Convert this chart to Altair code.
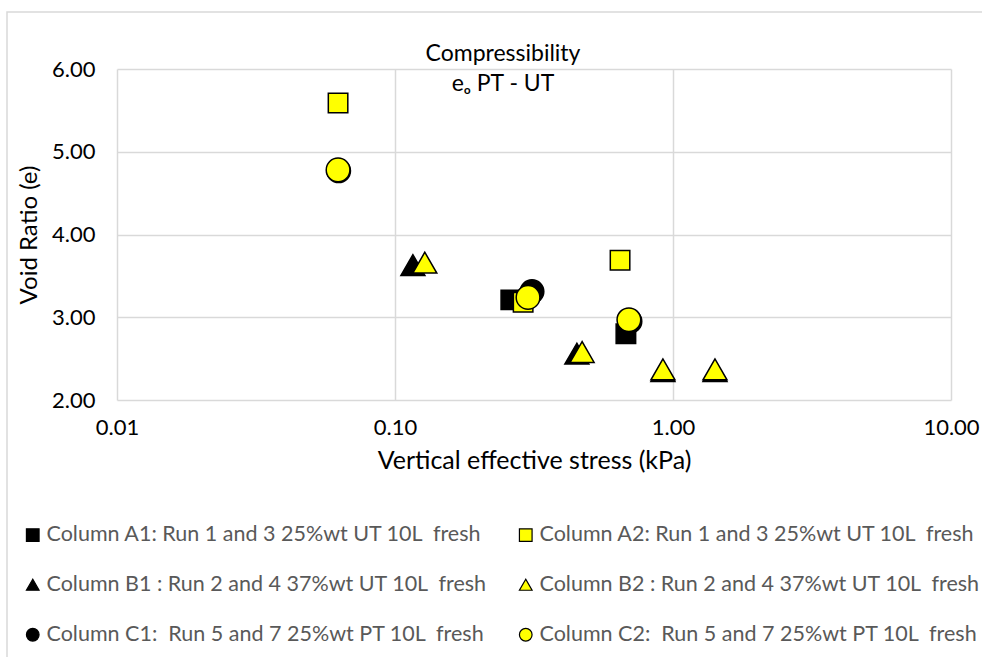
import altair as alt
import pandas as pd

# ---- data ----
series_names = [
    "Column A1: Run 1 and 3 25%wt UT 10L  fresh",
    "Column A2: Run 1 and 3 25%wt UT 10L  fresh",
    "Column B1 : Run 2 and 4 37%wt UT 10L  fresh",
    "Column B2 : Run 2 and 4 37%wt UT 10L  fresh",
    "Column C1:  Run 5 and 7 25%wt PT 10L  fresh",
    "Column C2:  Run 5 and 7 25%wt PT 10L  fresh",
]
a1_stress = [0.261, 0.677]
a1_void = [3.21, 2.80]
a2_stress = [0.0624, 0.289, 0.645]
a2_void = [5.59, 3.18, 3.69]
b1_stress = [0.116, 0.451, 0.92, 1.416]
b1_void = [3.63, 2.56, 2.35, 2.35]
b2_stress = [0.128, 0.471, 0.92, 1.416]
b2_void = [3.66, 2.58, 2.37, 2.37]
c1_stress = [0.0627, 0.311, 0.70]
c1_void = [4.77, 3.31, 2.95]
c2_stress = [0.0624, 0.301, 0.694]
c2_void = [4.78, 3.24, 2.97]

fills = ["black", "#ffff00", "black", "#ffff00", "black", "#ffff00"]
shapes = ["square", "square", "triangle-up", "triangle-up", "circle", "circle"]
marker_sizes = {"square": 380, "triangle-up": 576, "circle": 560}

x_ticks = [0.01, 0.1, 1, 10]
y_ticks = [2, 3, 4, 5, 6]

# keep the double spaces visible in SVG text
display_names = [s.replace("  ", " \u00a0") for s in series_names]

rows = []
for name, shp, xs, ys in zip(
    display_names, shapes,
    [a1_stress, a2_stress, b1_stress, b2_stress, c1_stress, c2_stress],
    [a1_void, a2_void, b1_void, b2_void, c1_void, c2_void],
):
    for xv, yv in zip(xs, ys):
        rows.append({"series": name, "shape": shp, "stress": xv, "void": yv})
df = pd.DataFrame(rows)

FONT = "Lato"

frame = alt.Chart(pd.DataFrame({"a": [0]})).mark_rect(
    fillOpacity=0, stroke="#d9d9d9", strokeWidth=1.5, clip=False
).encode(
    x=alt.value(-110), x2=alt.value(900), y=alt.value(-57), y2=alt.value(700)
)

x_enc = alt.X(
    "stress:Q",
    scale=alt.Scale(type="log", domain=[0.01, 10]),
    axis=alt.Axis(
        values=x_ticks, format=".2f", title="Vertical effective stress (kPa)",
        labelPadding=17, titlePadding=10, labelFlush=False, titleFontSize=25,
    ),
)
y_enc = alt.Y(
    "void:Q",
    scale=alt.Scale(domain=[2, 6]),
    axis=alt.Axis(
        values=y_ticks, format=".2f", title="Void Ratio (e)",
        labelPadding=22, titlePadding=10, labelFlush=False,
    ),
)
fill_enc = alt.Fill(
    "series:N",
    scale=alt.Scale(domain=display_names, range=fills),
    legend=alt.Legend(
        title=None, orient="none", legendX=-95, legendY=455,
        direction="horizontal", columns=2, columnPadding=27, rowPadding=27,
        labelLimit=700, labelFontSize=21.5, labelColor="#595959", labelFont=FONT,
        symbolSize=160, symbolStrokeColor="black", symbolStrokeWidth=1.2,
        labelOffset=3,
    ),
)
shape_enc = alt.Shape("series:N", scale=alt.Scale(domain=display_names, range=shapes))

layers = [frame]
for shp in ["square", "triangle-up", "circle"]:
    layers.append(
        alt.Chart(df)
        .transform_filter(alt.datum.shape == shp)
        .mark_point(filled=True, opacity=1, stroke="black", strokeWidth=1.5,
                    size=marker_sizes[shp])
        .encode(x=x_enc, y=y_enc, fill=fill_enc, shape=shape_enc)
    )

chart = alt.layer(*layers).properties(
    width=834,
    height=331,
    background="white",
    title=alt.TitleParams(
        text="Compressibility",
        subtitle="eₒ PT - UT" + "\u00a0" * 7,
        anchor="middle",
        dx=-31,
        offset=-85,
        font=FONT,
        fontSize=23,
        fontWeight="normal",
        color="black",
        subtitleFont=FONT,
        subtitleFontSize=23,
        subtitleColor="black",
        subtitlePadding=7,
    ),
    autosize=alt.AutoSizeParams(type="none"),
    padding={"left": 117, "top": 69, "right": 31, "bottom": 257},
).configure_view(stroke=None).configure_axis(
    grid=True, gridColor="#d9d9d9", gridWidth=1.5, domain=False, ticks=False,
    labelFont=FONT, labelFontSize=22, labelColor="black",
    titleFont=FONT, titleFontSize=24, titleFontWeight="normal", titleColor="black",
)

chart.save("out.html", embed_options={"renderer": "svg", "actions": False})
